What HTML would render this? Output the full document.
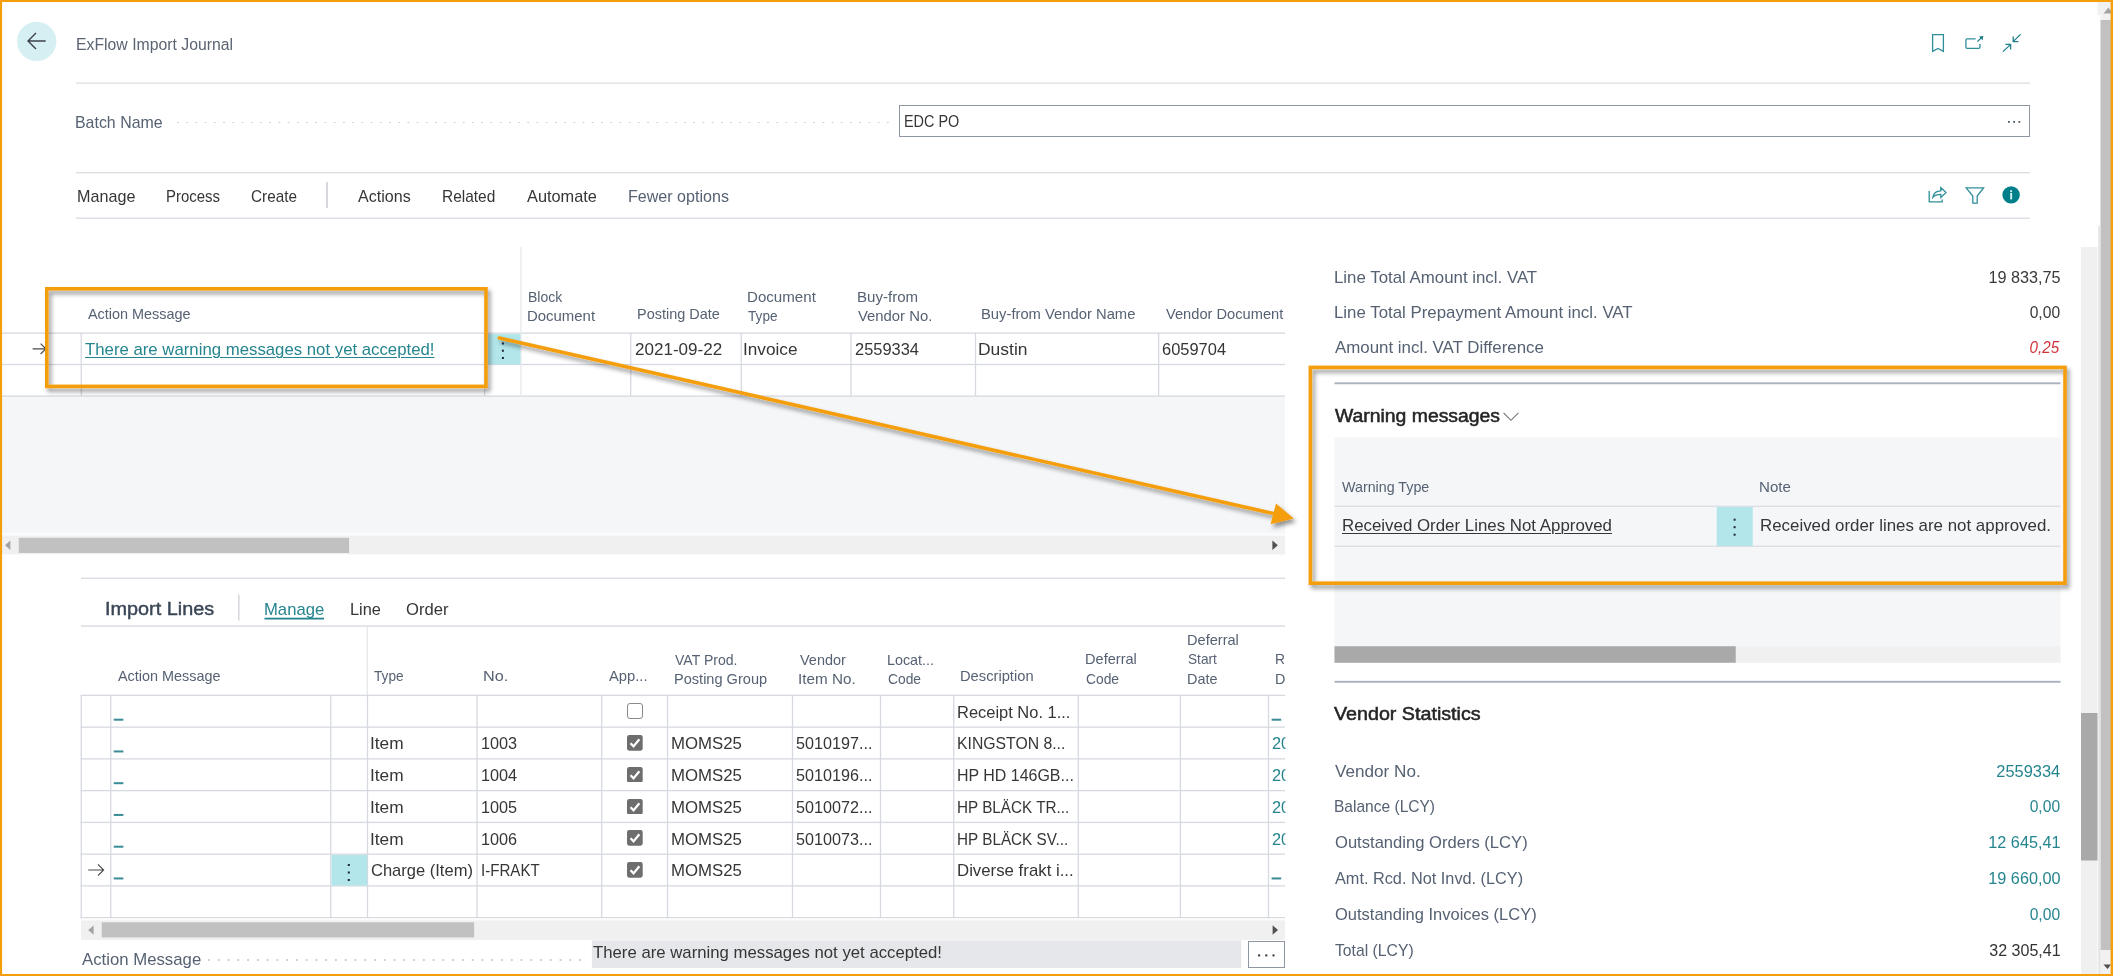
<!DOCTYPE html><html><head><meta charset="utf-8"><title>ExFlow Import Journal</title><style>
html,body{margin:0;padding:0}body{width:2113px;height:976px;position:relative;overflow:hidden;background:#fff;font-family:"Liberation Sans", sans-serif;}
#p>div,#p>svg,#p>span{position:absolute;display:block}
#p>span{white-space:nowrap;line-height:20px;height:20px}
.dots{background-image:linear-gradient(90deg,#cdd0d6 2px,rgba(255,255,255,0) 2px);background-repeat:repeat-x}
.ul{text-decoration:underline;text-decoration-thickness:1.3px;text-underline-offset:1.6px}
</style></head><body><div id="p">
<div class="dots" style="left:177.3px;top:121.7px;width:712.5px;height:1.7px;background-size:9.23px 1.7px"></div>
<div style="left:899px;top:105px;width:1131px;height:32px;background:#fff;box-sizing:border-box;border:1.25px solid #8e95a3"></div>
<div style="left:627px;top:703.30px;width:15.7px;height:15.7px;box-sizing:border-box;border:1.5px solid #8a8a8a;border-radius:3px;background:#fff"></div>
<svg style="left:627px;top:735.05px;width:15.7px;height:15.7px" viewBox="0 0 16 16"><rect x="0" y="0" width="16" height="16" rx="2.2" fill="#6e6e6e"/><path d="M3.6 8.4 L6.7 11.6 L12.6 4.4" fill="none" stroke="#fff" stroke-width="2.3"/></svg>
<svg style="left:627px;top:766.80px;width:15.7px;height:15.7px" viewBox="0 0 16 16"><rect x="0" y="0" width="16" height="16" rx="2.2" fill="#6e6e6e"/><path d="M3.6 8.4 L6.7 11.6 L12.6 4.4" fill="none" stroke="#fff" stroke-width="2.3"/></svg>
<svg style="left:627px;top:798.55px;width:15.7px;height:15.7px" viewBox="0 0 16 16"><rect x="0" y="0" width="16" height="16" rx="2.2" fill="#6e6e6e"/><path d="M3.6 8.4 L6.7 11.6 L12.6 4.4" fill="none" stroke="#fff" stroke-width="2.3"/></svg>
<svg style="left:627px;top:830.30px;width:15.7px;height:15.7px" viewBox="0 0 16 16"><rect x="0" y="0" width="16" height="16" rx="2.2" fill="#6e6e6e"/><path d="M3.6 8.4 L6.7 11.6 L12.6 4.4" fill="none" stroke="#fff" stroke-width="2.3"/></svg>
<svg style="left:627px;top:862.05px;width:15.7px;height:15.7px" viewBox="0 0 16 16"><rect x="0" y="0" width="16" height="16" rx="2.2" fill="#6e6e6e"/><path d="M3.6 8.4 L6.7 11.6 L12.6 4.4" fill="none" stroke="#fff" stroke-width="2.3"/></svg>
<svg style="left:87px;top:863.15px;width:19px;height:14px" viewBox="0 0 19 14"><path d="M1.2 7 H16.6 M11 1.4 L16.6 7 L11 12.6" fill="none" stroke="#4a4a4a" stroke-width="1.15"/></svg>
<div class="dots" style="left:207.8px;top:958.9px;width:374px;height:1.7px;background-size:9.77px 1.7px"></div>
<div style="left:1248px;top:941px;width:36.8px;height:27px;background:#fff;box-sizing:border-box;border:1.25px solid #8e95a3"></div>
<svg style="left:0;top:0;width:2113px;height:976px" viewBox="0 0 2113 976"><circle cx="36.7" cy="41.4" r="19.7" fill="#d6eff2"/><rect x="76.00" y="82.45" width="1954.00" height="1.30" fill="#dcdee4"/><rect x="2008.00" y="121.00" width="1.80" height="1.80" fill="#505c6d"/><rect x="2013.20" y="121.00" width="1.80" height="1.80" fill="#505c6d"/><rect x="2018.40" y="121.00" width="1.80" height="1.80" fill="#505c6d"/><rect x="76.00" y="172.00" width="1954.00" height="1.40" fill="#dcdee4"/><rect x="326.25" y="182.00" width="1.50" height="26.00" fill="#c9ccd3"/><rect x="76.00" y="217.50" width="1954.00" height="1.40" fill="#dcdee4"/><rect x="2.00" y="396.00" width="1283.00" height="137.00" fill="#f5f6f8"/><rect x="2.00" y="533.00" width="1283.00" height="2.80" fill="#fbfbfb"/><rect x="2.00" y="535.80" width="1283.00" height="18.60" fill="#f0f0f0"/><rect x="18.75" y="537.80" width="330.30" height="15.20" fill="#c1c1c1"/><rect x="2.00" y="332.45" width="1283.00" height="1.30" fill="#d6d9e0"/><rect x="2.00" y="363.85" width="1283.00" height="1.30" fill="#d6d9e0"/><rect x="2.00" y="395.45" width="1283.00" height="1.30" fill="#d6d9e0"/><rect x="80.60" y="333.00" width="1.30" height="63.00" fill="#d6d9e0"/><rect x="483.95" y="333.00" width="1.30" height="63.00" fill="#d6d9e0"/><rect x="520.35" y="247.00" width="1.30" height="149.00" fill="#e6e8ec"/><rect x="630.10" y="333.00" width="1.30" height="63.00" fill="#d6d9e0"/><rect x="740.60" y="333.00" width="1.30" height="63.00" fill="#d6d9e0"/><rect x="850.35" y="333.00" width="1.30" height="63.00" fill="#d6d9e0"/><rect x="974.85" y="333.00" width="1.30" height="63.00" fill="#d6d9e0"/><rect x="1158.05" y="333.00" width="1.30" height="63.00" fill="#d6d9e0"/><rect x="487.50" y="334.00" width="33.00" height="30.50" fill="#b2e6ea"/><rect x="501.90" y="342.50" width="2.00" height="2.00" fill="#1d2433"/><rect x="501.90" y="349.70" width="2.00" height="2.00" fill="#1d2433"/><rect x="501.90" y="357.00" width="2.00" height="2.00" fill="#1d2433"/><rect x="81.00" y="577.55" width="1204.00" height="1.50" fill="#dcdee4"/><rect x="238.05" y="594.50" width="1.50" height="26.00" fill="#d5d8de"/><rect x="264.50" y="617.70" width="59.50" height="1.80" fill="#25858f"/><rect x="81.00" y="625.35" width="1204.00" height="1.50" fill="#dcdee4"/><rect x="366.65" y="627.00" width="1.30" height="68.00" fill="#e6e8ec"/><rect x="80.60" y="694.75" width="1204.40" height="1.30" fill="#d6d9e0"/><rect x="80.60" y="726.50" width="1204.40" height="1.30" fill="#d6d9e0"/><rect x="80.60" y="758.25" width="1204.40" height="1.30" fill="#d6d9e0"/><rect x="80.60" y="790.00" width="1204.40" height="1.30" fill="#d6d9e0"/><rect x="80.60" y="821.75" width="1204.40" height="1.30" fill="#d6d9e0"/><rect x="80.60" y="853.50" width="1204.40" height="1.30" fill="#d6d9e0"/><rect x="80.60" y="885.25" width="1204.40" height="1.30" fill="#d6d9e0"/><rect x="80.60" y="917.00" width="1204.40" height="1.30" fill="#d6d9e0"/><rect x="80.60" y="695.40" width="1.30" height="223.25" fill="#d6d9e0"/><rect x="110.10" y="695.40" width="1.30" height="223.25" fill="#d6d9e0"/><rect x="330.10" y="695.40" width="1.30" height="223.25" fill="#d6d9e0"/><rect x="366.85" y="695.40" width="1.30" height="223.25" fill="#d6d9e0"/><rect x="476.35" y="695.40" width="1.30" height="223.25" fill="#d6d9e0"/><rect x="601.05" y="695.40" width="1.30" height="223.25" fill="#d6d9e0"/><rect x="666.85" y="695.40" width="1.30" height="223.25" fill="#d6d9e0"/><rect x="791.85" y="695.40" width="1.30" height="223.25" fill="#d6d9e0"/><rect x="879.85" y="695.40" width="1.30" height="223.25" fill="#d6d9e0"/><rect x="953.10" y="695.40" width="1.30" height="223.25" fill="#d6d9e0"/><rect x="1077.65" y="695.40" width="1.30" height="223.25" fill="#d6d9e0"/><rect x="1179.75" y="695.40" width="1.30" height="223.25" fill="#d6d9e0"/><rect x="1267.85" y="695.40" width="1.30" height="223.25" fill="#d6d9e0"/><rect x="331.50" y="854.95" width="35.70" height="30.60" fill="#b2e6ea"/><rect x="347.80" y="864.00" width="2.00" height="2.00" fill="#1d2433"/><rect x="347.80" y="871.50" width="2.00" height="2.00" fill="#1d2433"/><rect x="347.80" y="879.00" width="2.00" height="2.00" fill="#1d2433"/><rect x="113.75" y="718.70" width="9.60" height="2.00" fill="#3a8d96"/><rect x="1271.60" y="718.70" width="9.60" height="2.00" fill="#3a8d96"/><rect x="113.75" y="750.45" width="9.60" height="2.00" fill="#3a8d96"/><rect x="113.75" y="782.20" width="9.60" height="2.00" fill="#3a8d96"/><rect x="113.75" y="813.95" width="9.60" height="2.00" fill="#3a8d96"/><rect x="113.75" y="845.70" width="9.60" height="2.00" fill="#3a8d96"/><rect x="113.75" y="877.45" width="9.60" height="2.00" fill="#3a8d96"/><rect x="1271.60" y="877.45" width="9.60" height="2.00" fill="#3a8d96"/><rect x="81.00" y="918.30" width="1204.00" height="2.20" fill="#fbfbfb"/><rect x="81.00" y="920.50" width="1204.00" height="19.40" fill="#f0f0f0"/><rect x="101.75" y="922.30" width="372.40" height="15.10" fill="#c1c1c1"/><rect x="591.90" y="940.40" width="649.30" height="27.60" fill="#e6e7ea"/><rect x="1258.10" y="954.40" width="2.00" height="2.00" fill="#333"/><rect x="1265.30" y="954.40" width="2.00" height="2.00" fill="#333"/><rect x="1272.50" y="954.40" width="2.00" height="2.00" fill="#333"/><rect x="1334.50" y="382.35" width="726.00" height="1.90" fill="#a9b1be"/><rect x="1334.50" y="437.50" width="726.00" height="209.00" fill="#f5f6f8"/><rect x="1334.50" y="505.65" width="726.00" height="1.30" fill="#dcdee4"/><rect x="1334.50" y="545.65" width="726.00" height="1.30" fill="#dcdee4"/><rect x="1716.75" y="507.00" width="36.00" height="39.00" fill="#b2e6ea"/><rect x="1733.60" y="518.70" width="2.00" height="2.00" fill="#1d2433"/><rect x="1733.60" y="526.20" width="2.00" height="2.00" fill="#1d2433"/><rect x="1733.60" y="533.70" width="2.00" height="2.00" fill="#1d2433"/><rect x="1334.50" y="646.25" width="726.00" height="16.50" fill="#f0f0f0"/><rect x="1334.50" y="646.25" width="401.25" height="16.50" fill="#a9a9a9"/><rect x="1334.50" y="680.85" width="726.00" height="1.90" fill="#a9b1be"/><rect x="2081.00" y="247.00" width="16.50" height="729.00" fill="#f0f0f0"/><rect x="2081.00" y="713.00" width="16.50" height="147.50" fill="#a9a9a9"/><rect x="2097.50" y="2.00" width="15.00" height="13.00" fill="#f1f1f1"/><rect x="2100.50" y="14.00" width="11.00" height="962.00" fill="#f1f1f1"/><rect x="2100.50" y="20.00" width="11.00" height="930.00" fill="#c1c1c1"/><rect x="2098.30" y="226.00" width="2.20" height="750.00" fill="#e3e3e3"/></svg>
<span id="t0" style="left:75.51px;top:35.00px;font-size:16px;color:#5b6472;transform:scaleX(0.9866);transform-origin:left top;">ExFlow Import Journal</span>
<span id="t1" style="left:75.31px;top:113.00px;font-size:17px;color:#566273;transform:scaleX(0.9366);transform-origin:left top;">Batch Name</span>
<span id="t2" style="left:904.15px;top:112.00px;font-size:17px;color:#363636;transform:scaleX(0.8483);transform-origin:left top;">EDC PO</span>
<span id="t3" style="left:76.55px;top:187.00px;font-size:17px;color:#363636;transform:scaleX(0.9503);transform-origin:left top;">Manage</span>
<span id="t4" style="left:165.87px;top:187.00px;font-size:17px;color:#363636;transform:scaleX(0.8805);transform-origin:left top;">Process</span>
<span id="t5" style="left:251.25px;top:187.00px;font-size:17px;color:#363636;transform:scaleX(0.8997);transform-origin:left top;">Create</span>
<span id="t6" style="left:358.25px;top:187.00px;font-size:17px;color:#363636;transform:scaleX(0.9457);transform-origin:left top;">Actions</span>
<span id="t7" style="left:441.59px;top:187.00px;font-size:17px;color:#363636;transform:scaleX(0.9100);transform-origin:left top;">Related</span>
<span id="t8" style="left:526.75px;top:187.00px;font-size:17px;color:#363636;transform:scaleX(0.9611);transform-origin:left top;">Automate</span>
<span id="t9" style="left:627.55px;top:187.00px;font-size:17px;color:#566273;transform:scaleX(0.9452);transform-origin:left top;">Fewer options</span>
<span id="t10" style="left:88.25px;top:304.00px;font-size:14.5px;color:#566273;transform:scaleX(0.9942);transform-origin:left top;">Action Message</span>
<span id="t11" style="left:527.53px;top:287.00px;font-size:14.5px;color:#566273;transform:scaleX(0.9657);transform-origin:left top;">Block</span>
<span id="t12" style="left:527.47px;top:306.00px;font-size:14.5px;color:#566273;transform:scaleX(1.0299);transform-origin:left top;">Document</span>
<span id="t13" style="left:637.25px;top:304.00px;font-size:14.5px;color:#566273;transform:scaleX(0.9975);transform-origin:left top;">Posting Date</span>
<span id="t14" style="left:746.96px;top:287.00px;font-size:14.5px;color:#566273;transform:scaleX(1.0414);transform-origin:left top;">Document</span>
<span id="t15" style="left:748.00px;top:306.00px;font-size:14.5px;color:#566273;transform:scaleX(0.9403);transform-origin:left top;">Type</span>
<span id="t16" style="left:856.96px;top:287.00px;font-size:14.5px;color:#566273;transform:scaleX(1.0392);transform-origin:left top;">Buy-from</span>
<span id="t17" style="left:858.00px;top:306.00px;font-size:14.5px;color:#566273;transform:scaleX(1.0242);transform-origin:left top;">Vendor No.</span>
<span id="t18" style="left:981.48px;top:304.00px;font-size:14.5px;color:#566273;transform:scaleX(1.0190);transform-origin:left top;">Buy-from Vendor Name</span>
<span id="t19" style="left:1166.00px;top:304.00px;font-size:14.5px;color:#566273;transform:scaleX(1.0108);transform-origin:left top;">Vendor Document</span>
<span id="t20" class="ul" style="left:85.00px;top:340.00px;font-size:17px;color:#25858f;transform:scaleX(0.9862);transform-origin:left top;">There are warning messages not yet accepted!</span>
<span id="t21" style="left:634.50px;top:340.00px;font-size:17px;color:#363636;transform:scaleX(1.0028);transform-origin:left top;">2021-09-22</span>
<span id="t22" style="left:743.49px;top:340.00px;font-size:17px;color:#363636;transform:scaleX(1.0113);transform-origin:left top;">Invoice</span>
<span id="t23" style="left:854.50px;top:340.00px;font-size:17px;color:#363636;transform:scaleX(0.9661);transform-origin:left top;">2559334</span>
<span id="t24" style="left:977.72px;top:340.00px;font-size:17px;color:#363636;transform:scaleX(1.0271);transform-origin:left top;">Dustin</span>
<span id="t25" style="left:1162.20px;top:340.00px;font-size:17px;color:#363636;transform:scaleX(0.9676);transform-origin:left top;">6059704</span>
<span id="t26" style="left:105.15px;top:599.00px;font-size:18px;color:#3a4656;transform:scaleX(1.1015);transform-origin:left top;-webkit-text-stroke:0.42px #3a4656;">Import Lines</span>
<span id="t27" style="left:264.02px;top:600.00px;font-size:17px;color:#25858f;transform:scaleX(0.9795);transform-origin:left top;">Manage</span>
<span id="t28" style="left:349.54px;top:600.00px;font-size:17px;color:#363636;transform:scaleX(0.9613);transform-origin:left top;">Line</span>
<span id="t29" style="left:405.50px;top:600.00px;font-size:17px;color:#363636;transform:scaleX(0.9762);transform-origin:left top;">Order</span>
<span id="t30" style="left:117.50px;top:666.00px;font-size:14.5px;color:#566273;transform:scaleX(0.9942);transform-origin:left top;">Action Message</span>
<span id="t31" style="left:374.25px;top:666.00px;font-size:14.5px;color:#566273;transform:scaleX(0.9403);transform-origin:left top;">Type</span>
<span id="t32" style="left:483.13px;top:666.00px;font-size:14.5px;color:#566273;transform:scaleX(1.1200);transform-origin:left top;">No.</span>
<span id="t33" style="left:608.75px;top:666.00px;font-size:14.5px;color:#566273;transform:scaleX(1.0174);transform-origin:left top;">App...</span>
<span id="t34" style="left:675.00px;top:650.00px;font-size:14.5px;color:#566273;transform:scaleX(0.9693);transform-origin:left top;">VAT Prod.</span>
<span id="t35" style="left:674.00px;top:669.00px;font-size:14.5px;color:#566273;transform:scaleX(1.0041);transform-origin:left top;">Posting Group</span>
<span id="t36" style="left:799.50px;top:650.00px;font-size:14.5px;color:#566273;transform:scaleX(0.9972);transform-origin:left top;">Vendor</span>
<span id="t37" style="left:798.45px;top:669.00px;font-size:14.5px;color:#566273;transform:scaleX(1.0519);transform-origin:left top;">Item No.</span>
<span id="t38" style="left:886.51px;top:650.00px;font-size:14.5px;color:#566273;transform:scaleX(0.9884);transform-origin:left top;">Locat...</span>
<span id="t39" style="left:887.50px;top:669.00px;font-size:14.5px;color:#566273;transform:scaleX(0.9538);transform-origin:left top;">Code</span>
<span id="t40" style="left:960.24px;top:666.00px;font-size:14.5px;color:#566273;transform:scaleX(1.0145);transform-origin:left top;">Description</span>
<span id="t41" style="left:1084.60px;top:649.00px;font-size:14.5px;color:#566273;transform:scaleX(1.0050);transform-origin:left top;">Deferral</span>
<span id="t42" style="left:1085.60px;top:669.00px;font-size:14.5px;color:#566273;transform:scaleX(0.9538);transform-origin:left top;">Code</span>
<span id="t43" style="left:1187.10px;top:630.00px;font-size:14.5px;color:#566273;transform:scaleX(1.0050);transform-origin:left top;">Deferral</span>
<span id="t44" style="left:1188.10px;top:649.00px;font-size:14.5px;color:#566273;transform:scaleX(0.9398);transform-origin:left top;">Start</span>
<span id="t45" style="left:1187.11px;top:669.00px;font-size:14.5px;color:#566273;transform:scaleX(0.9944);transform-origin:left top;">Date</span>
<span id="t46" style="left:1275.29px;top:649.00px;font-size:14.5px;color:#566273;transform:scaleX(0.9556);transform-origin:left top;width:10.00px;overflow:hidden;">Receipt</span>
<span id="t47" style="left:1275.26px;top:669.00px;font-size:14.5px;color:#566273;transform:scaleX(0.9944);transform-origin:left top;width:9.65px;overflow:hidden;">Date</span>
<span id="t48" style="left:956.53px;top:703.00px;font-size:17px;color:#363636;transform:scaleX(0.9680);transform-origin:left top;">Receipt No. 1...</span>
<span id="t49" style="left:369.73px;top:734.00px;font-size:17px;color:#363636;transform:scaleX(1.0188);transform-origin:left top;">Item</span>
<span id="t50" style="left:481.04px;top:734.00px;font-size:17px;color:#363636;transform:scaleX(0.9556);transform-origin:left top;">1003</span>
<span id="t51" style="left:670.76px;top:734.00px;font-size:17px;color:#363636;transform:scaleX(0.9881);transform-origin:left top;">MOMS25</span>
<span id="t52" style="left:796.25px;top:734.00px;font-size:17px;color:#363636;transform:scaleX(0.9513);transform-origin:left top;">5010197...</span>
<span id="t53" style="left:956.57px;top:734.00px;font-size:17px;color:#363636;transform:scaleX(0.9274);transform-origin:left top;">KINGSTON 8...</span>
<span id="t54" style="left:1271.60px;top:734.00px;font-size:17px;color:#25858f;transform:scaleX(0.9635);transform-origin:left top;width:13.91px;overflow:hidden;">2021</span>
<span id="t55" style="left:369.73px;top:766.00px;font-size:17px;color:#363636;transform:scaleX(1.0188);transform-origin:left top;">Item</span>
<span id="t56" style="left:481.04px;top:766.00px;font-size:17px;color:#363636;transform:scaleX(0.9556);transform-origin:left top;">1004</span>
<span id="t57" style="left:670.76px;top:766.00px;font-size:17px;color:#363636;transform:scaleX(0.9881);transform-origin:left top;">MOMS25</span>
<span id="t58" style="left:796.25px;top:766.00px;font-size:17px;color:#363636;transform:scaleX(0.9513);transform-origin:left top;">5010196...</span>
<span id="t59" style="left:956.56px;top:766.00px;font-size:17px;color:#363636;transform:scaleX(0.9391);transform-origin:left top;">HP HD 146GB...</span>
<span id="t60" style="left:1271.60px;top:766.00px;font-size:17px;color:#25858f;transform:scaleX(0.9635);transform-origin:left top;width:13.91px;overflow:hidden;">2021</span>
<span id="t61" style="left:369.73px;top:798.00px;font-size:17px;color:#363636;transform:scaleX(1.0188);transform-origin:left top;">Item</span>
<span id="t62" style="left:481.04px;top:798.00px;font-size:17px;color:#363636;transform:scaleX(0.9556);transform-origin:left top;">1005</span>
<span id="t63" style="left:670.76px;top:798.00px;font-size:17px;color:#363636;transform:scaleX(0.9881);transform-origin:left top;">MOMS25</span>
<span id="t64" style="left:796.25px;top:798.00px;font-size:17px;color:#363636;transform:scaleX(0.9513);transform-origin:left top;">5010072...</span>
<span id="t65" style="left:956.60px;top:798.00px;font-size:17px;color:#363636;transform:scaleX(0.8978);transform-origin:left top;">HP BLÄCK TR...</span>
<span id="t66" style="left:1271.60px;top:798.00px;font-size:17px;color:#25858f;transform:scaleX(0.9635);transform-origin:left top;width:13.91px;overflow:hidden;">2021</span>
<span id="t67" style="left:369.73px;top:830.00px;font-size:17px;color:#363636;transform:scaleX(1.0188);transform-origin:left top;">Item</span>
<span id="t68" style="left:481.04px;top:830.00px;font-size:17px;color:#363636;transform:scaleX(0.9556);transform-origin:left top;">1006</span>
<span id="t69" style="left:670.76px;top:830.00px;font-size:17px;color:#363636;transform:scaleX(0.9881);transform-origin:left top;">MOMS25</span>
<span id="t70" style="left:796.25px;top:830.00px;font-size:17px;color:#363636;transform:scaleX(0.9513);transform-origin:left top;">5010073...</span>
<span id="t71" style="left:956.60px;top:830.00px;font-size:17px;color:#363636;transform:scaleX(0.8989);transform-origin:left top;">HP BLÄCK SV...</span>
<span id="t72" style="left:1271.60px;top:830.00px;font-size:17px;color:#25858f;transform:scaleX(0.9635);transform-origin:left top;width:13.91px;overflow:hidden;">2021</span>
<span id="t73" style="left:370.75px;top:861.00px;font-size:17px;color:#363636;transform:scaleX(0.9717);transform-origin:left top;">Charge (Item)</span>
<span id="t74" style="left:481.11px;top:861.00px;font-size:17px;color:#363636;transform:scaleX(0.8884);transform-origin:left top;">I-FRAKT</span>
<span id="t75" style="left:670.76px;top:861.00px;font-size:17px;color:#363636;transform:scaleX(0.9881);transform-origin:left top;">MOMS25</span>
<span id="t76" style="left:956.51px;top:861.00px;font-size:17px;color:#363636;transform:scaleX(0.9884);transform-origin:left top;">Diverse frakt i...</span>
<span id="t77" style="left:81.75px;top:950.00px;font-size:17px;color:#566273;transform:scaleX(0.9855);transform-origin:left top;">Action Message</span>
<span id="t78" style="left:592.50px;top:943.00px;font-size:17px;color:#363636;transform:scaleX(0.9848);transform-origin:left top;">There are warning messages not yet accepted!</span>
<span id="t79" style="left:1333.51px;top:268.00px;font-size:17px;color:#566273;transform:scaleX(0.9907);transform-origin:left top;">Line Total Amount incl. VAT</span>
<span id="t80" style="right:52.57px;top:268.00px;font-size:17px;color:#3a3a3a;transform:scaleX(0.9538);transform-origin:right top;">19 833,75</span>
<span id="t81" style="left:1333.51px;top:303.00px;font-size:17px;color:#566273;transform:scaleX(0.9907);transform-origin:left top;">Line Total Prepayment Amount incl. VAT</span>
<span id="t82" style="right:52.58px;top:303.00px;font-size:17px;color:#3a3a3a;transform:scaleX(0.9193);transform-origin:right top;">0,00</span>
<span id="t83" style="left:1334.50px;top:338.00px;font-size:17px;color:#566273;transform:scaleX(0.9929);transform-origin:left top;">Amount incl. VAT Difference</span>
<span id="t84" style="right:53.49px;top:338.00px;font-size:17px;color:#d13438;transform:scaleX(0.8920);transform-origin:right top;font-style:italic;">0,25</span>
<span id="t85" style="left:1334.50px;top:406.00px;font-size:18px;color:#252525;transform:scaleX(1.0757);transform-origin:left top;-webkit-text-stroke:0.52px #252525;">Warning messages</span>
<span id="t86" style="left:1342.00px;top:477.00px;font-size:14.5px;color:#566273;transform:scaleX(0.9848);transform-origin:left top;">Warning Type</span>
<span id="t87" style="left:1758.96px;top:477.00px;font-size:14.5px;color:#566273;transform:scaleX(1.0401);transform-origin:left top;">Note</span>
<span id="t88" class="ul" style="left:1342.01px;top:516.00px;font-size:17px;color:#363636;transform:scaleX(0.9921);transform-origin:left top;">Received Order Lines Not Approved</span>
<span id="t89" style="left:1759.76px;top:516.00px;font-size:17px;color:#363636;transform:scaleX(0.9932);transform-origin:left top;">Received order lines are not approved.</span>
<span id="t90" style="left:1334.35px;top:704.00px;font-size:18px;color:#252525;transform:scaleX(1.0938);transform-origin:left top;-webkit-text-stroke:0.52px #252525;">Vendor Statistics</span>
<span id="t91" style="left:1334.50px;top:762.00px;font-size:17px;color:#566273;transform:scaleX(1.0079);transform-origin:left top;">Vendor No.</span>
<span id="t92" style="right:52.56px;top:762.00px;font-size:17px;color:#25858f;transform:scaleX(0.9661);transform-origin:right top;">2559334</span>
<span id="t93" style="left:1333.59px;top:797.00px;font-size:17px;color:#566273;transform:scaleX(0.9138);transform-origin:left top;">Balance (LCY)</span>
<span id="t94" style="right:52.58px;top:797.00px;font-size:17px;color:#25858f;transform:scaleX(0.9193);transform-origin:right top;">0,00</span>
<span id="t95" style="left:1334.50px;top:833.00px;font-size:17px;color:#566273;transform:scaleX(0.9756);transform-origin:left top;">Outstanding Orders (LCY)</span>
<span id="t96" style="right:52.56px;top:833.00px;font-size:17px;color:#25858f;transform:scaleX(0.9572);transform-origin:right top;">12 645,41</span>
<span id="t97" style="left:1334.50px;top:869.00px;font-size:17px;color:#566273;transform:scaleX(0.9574);transform-origin:left top;">Amt. Rcd. Not Invd. (LCY)</span>
<span id="t98" style="right:52.56px;top:869.00px;font-size:17px;color:#25858f;transform:scaleX(0.9572);transform-origin:right top;">19 660,00</span>
<span id="t99" style="left:1334.50px;top:905.00px;font-size:17px;color:#566273;transform:scaleX(0.9700);transform-origin:left top;">Outstanding Invoices (LCY)</span>
<span id="t100" style="right:52.58px;top:905.00px;font-size:17px;color:#25858f;transform:scaleX(0.9193);transform-origin:right top;">0,00</span>
<span id="t101" style="left:1334.50px;top:941.00px;font-size:17px;color:#566273;transform:scaleX(0.9246);transform-origin:left top;">Total (LCY)</span>
<span id="t102" style="right:52.57px;top:941.00px;font-size:17px;color:#333;transform:scaleX(0.9445);transform-origin:right top;">32 305,41</span>
<svg style="left:0;top:0;width:2113px;height:976px;pointer-events:none" viewBox="0 0 2113 976">
<defs>
<filter id="sh" x="-5%" y="-20%" width="110%" height="150%"><feDropShadow dx="2.5" dy="3.5" stdDeviation="2.2" flood-color="#000" flood-opacity="0.42"/></filter>
</defs>
<!-- back arrow -->
<path d="M45.7 41 H28.2 M36 33 L28 41 L36 49" fill="none" stroke="#3c4248" stroke-width="1.4"/>
<!-- top right icons -->
<g fill="none" stroke="#2f8f99" stroke-width="1.3">
<path d="M1932.6 34.7 H1943.4 V51.4 L1938 48.5 L1932.6 51.4 Z"/>
<path d="M1975.6 38.9 H1967.2 Q1965.9 38.9 1965.9 40.2 V47 Q1965.9 48.3 1967.2 48.3 H1978.7 Q1980 48.3 1980 47 V44"/>
<path d="M1977.4 41.6 L1982.4 36.8" stroke="#1f7f89"/><path d="M1983.3 35.9 L1979 36.5 L1982.7 40.2 Z" fill="#1f7f89" stroke="none"/>
<path d="M2020.6 34.4 L2013.4 41.4 M2013.2 36.4 V41.6 H2018.4" stroke="#1f7f89"/>
<path d="M2003 51.6 L2010.4 44.6 M2005.4 44.4 H2010.6 V49.6" stroke="#1f7f89"/>
</g>
<!-- toolbar right icons -->
<g fill="none" stroke="#2f8f99" stroke-width="1.3">
<path d="M1929.2 191 V201.8 H1942.2 V199.4"/>
<path d="M1932.8 197.4 C1933.6 192.6 1937 190.8 1940.8 190.8 V187.6 L1946 192.6 L1940.8 197.4 V194.4 C1937.4 194.4 1934.8 195.2 1932.8 197.4 Z"/>
<path d="M1966.2 187.8 H1983.6 L1977.2 196 V203.2 H1972.8 V196 Z"/>
</g>
<circle cx="2011.1" cy="194.9" r="8.7" fill="#007f8a"/>
<rect x="2010.2" y="193" width="1.9" height="6.4" fill="#d9f0f2"/><rect x="2010.2" y="190.2" width="1.9" height="1.9" fill="#d9f0f2"/>
<!-- row arrow top grid -->
<path d="M32.6 348.8 H45.6 M40.6 343.6 L45.8 348.8 L40.6 354" fill="none" stroke="#4a4a4a" stroke-width="1.15"/>
<!-- scrollbar arrows -->
<path d="M10.4 540.6 V550 L5 545.3 Z" fill="#a3a3a3"/>
<path d="M1272.4 540.6 V550 L1277.8 545.3 Z" fill="#505050"/>
<path d="M93.6 925.4 V934.8 L88.2 930.1 Z" fill="#a3a3a3"/>
<path d="M1272.6 925.3 V934.7 L1278 930 Z" fill="#505050"/>
<path d="M2103.6 13.4 H2111 V11 L2108.4 7.4 Z" fill="#a3a3a3"/>
<path d="M2103.4 964.5 H2111 L2107.6 969 Z" fill="#505050"/>
<!-- chevron -->
<path d="M1503.6 412.8 L1511 420.3 L1518.4 412.8" fill="none" stroke="#777" stroke-width="1.15"/>
<!-- orange annotations -->
<g filter="url(#sh)">
<rect x="46.8" y="288.8" width="439.2" height="97.6" fill="none" stroke="#f59e0b" stroke-width="3.6"/>
<rect x="1310.4" y="367.4" width="754.6" height="215.8" fill="none" stroke="#f59e0b" stroke-width="3.6"/>
<path d="M499.3 338 L1273.3 513.6" fill="none" stroke="#f59e0b" stroke-width="3.6" stroke-linecap="round"/>
<path d="M1293.8 518.4 L1270.6 524.2 L1276 503.4 Z" fill="#f59e0b"/>
</g>
<!-- outer frame -->
<path d="M0 0 H2113 V976 H0 Z M2.1 2 V973.9 H2110.6 V2 Z" fill="#f59e0b" fill-rule="evenodd"/>
</svg>

</div></body></html>
